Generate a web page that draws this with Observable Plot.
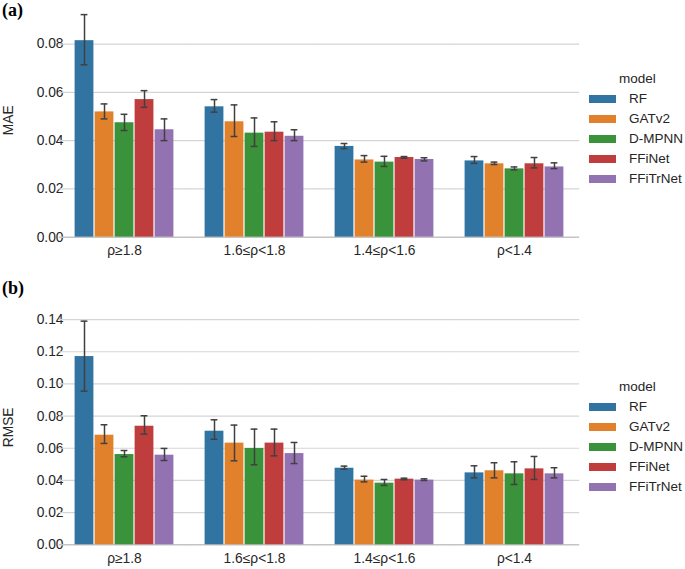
<!DOCTYPE html>
<html><head><meta charset="utf-8">
<script src="https://cdn.jsdelivr.net/npm/d3@7"></script>
<script src="https://cdn.jsdelivr.net/npm/@observablehq/plot@0.6"></script>
<style>
body{margin:0;background:#fff;font-family:"Liberation Sans",Arial,sans-serif;}
#root{position:relative;width:685px;height:569px;overflow:hidden;}
.panel{position:absolute;left:0;}
.tag{position:absolute;left:2px;font-family:"Liberation Serif","Times New Roman",serif;font-weight:bold;font-size:18px;line-height:18px;color:#000;}
.legend{position:absolute;left:589px;font-size:13.5px;color:#262626;}
.legend .title{position:absolute;left:30px;white-space:nowrap;}
.legend .item{position:absolute;left:0;white-space:nowrap;height:20px;}
.legend .sw{position:absolute;left:0;width:27px;height:8px;}
.legend .lab{position:absolute;left:40px;}
</style></head><body><div id="root"></div>
<script>
const groups = ["ρ≥1.8", "1.6≤ρ<1.8", "1.4≤ρ<1.6", "ρ<1.4"];
const models = ["RF", "GATv2", "D-MPNN", "FFiNet", "FFiTrNet"];
const colors = ["#3274a1", "#e1812c", "#3a923a", "#c03d3e", "#9372b2"];

// MAE (rows: groups, columns: models)
const maeMean = [
  [0.0814, 0.0519, 0.0474, 0.0570, 0.0445],
  [0.0540, 0.0478, 0.0431, 0.0435, 0.0418],
  [0.0376, 0.0320, 0.0311, 0.0330, 0.0322],
  [0.0316, 0.0304, 0.0283, 0.0304, 0.0291]
];
const maeLow = [
  [0.0714, 0.0490, 0.0442, 0.0538, 0.0400],
  [0.0518, 0.0417, 0.0376, 0.0400, 0.0400],
  [0.0367, 0.0311, 0.0293, 0.0327, 0.0316],
  [0.0306, 0.0301, 0.0279, 0.0287, 0.0284]
];
const maeHigh = [
  [0.0922, 0.0552, 0.0509, 0.0607, 0.0490],
  [0.0570, 0.0548, 0.0494, 0.0478, 0.0445],
  [0.0388, 0.0338, 0.0335, 0.0334, 0.0329],
  [0.0334, 0.0311, 0.0291, 0.0330, 0.0308]
];
const maeTicks = [0, 0.02, 0.04, 0.06, 0.08];

// RMSE
const rmseMean = [
  [0.1170, 0.0681, 0.0561, 0.0737, 0.0557],
  [0.0706, 0.0632, 0.0599, 0.0632, 0.0567],
  [0.0476, 0.0402, 0.0383, 0.0408, 0.0402],
  [0.0447, 0.0460, 0.0441, 0.0472, 0.0441]
];
const rmseLow = [
  [0.0955, 0.0630, 0.0547, 0.0688, 0.0524],
  [0.0656, 0.0522, 0.0497, 0.0553, 0.0505],
  [0.0470, 0.0391, 0.0369, 0.0404, 0.0400],
  [0.0416, 0.0416, 0.0375, 0.0406, 0.0416]
];
const rmseHigh = [
  [0.1390, 0.0746, 0.0586, 0.0802, 0.0599],
  [0.0777, 0.0744, 0.0719, 0.0719, 0.0636],
  [0.0489, 0.0426, 0.0406, 0.0414, 0.0410],
  [0.0491, 0.0510, 0.0516, 0.0549, 0.0479]
];
const rmseTicks = [0, 0.02, 0.04, 0.06, 0.08, 0.10, 0.12, 0.14];

function rows(mean, low, high) {
  const out = [];
  groups.forEach((g, i) => models.forEach((m, j) => {
    out.push({group: g, model: m, value: mean[i][j], low: low[i][j], high: high[i][j]});
  }));
  return out;
}

const root = document.getElementById("root");

function panel({mean, low, high, ticks, yMax, yLabel, tag, top, marginTop, plotH, marginBottom, tagTop, legendTop}) {
  const data = rows(mean, low, high);
  const gapHalf = -13.2;
  const chart = Plot.plot({
    width: 685,
    height: marginTop + plotH + marginBottom,
    marginLeft: 57,
    marginRight: 105,
    marginTop,
    marginBottom,
    style: {fontFamily: "Liberation Sans, Arial, sans-serif", fontSize: "13.8px", color: "#262626", background: "transparent", overflow: "visible"},
    fx: {domain: groups, paddingInner: 0.2, paddingOuter: 0.1, label: null, axis: "bottom", tickSize: 0, tickPadding: 8},
    x: {domain: models, axis: null, padding: 0},
    y: {domain: [0, yMax], ticks, tickFormat: d3.format(".2f"), tickSize: 0, tickPadding: 9,
        label: yLabel, labelAnchor: "center", labelOffset: 69, labelArrow: "none"},
    color: {domain: models, range: colors},
    marks: [
      Plot.ruleY(ticks.slice(1), {stroke: "#d5d5d5", strokeWidth: 1.2, insetLeft: gapHalf, insetRight: gapHalf}),
      Plot.ruleY([0], {stroke: "#c4c4c4", strokeWidth: 1.4, insetLeft: gapHalf, insetRight: gapHalf}),
      Plot.barY(data, {fx: "group", x: "model", y: "value", fill: "model", insetLeft: 0.6, insetRight: 0.6}),
      Plot.ruleX(data, {fx: "group", x: "model", y1: "low", y2: "high", stroke: "#404040", strokeWidth: 1.5}),
      Plot.tickY(data, {fx: "group", x: "model", y: "low", stroke: "#404040", strokeWidth: 1.5, insetLeft: 6.6, insetRight: 6.6}),
      Plot.tickY(data, {fx: "group", x: "model", y: "high", stroke: "#404040", strokeWidth: 1.5, insetLeft: 6.6, insetRight: 6.6})
    ]
  });
  const wrap = document.createElement("div");
  wrap.className = "panel";
  wrap.style.top = top + "px";
  wrap.appendChild(chart);
  root.appendChild(wrap);

  const t = document.createElement("div");
  t.className = "tag";
  t.style.top = tagTop + "px";
  t.textContent = tag;
  root.appendChild(t);

  const lg = document.createElement("div");
  lg.className = "legend";
  lg.style.top = legendTop + "px";
  const title = document.createElement("div");
  title.className = "title";
  title.style.top = "-8px";
  title.textContent = "model";
  lg.appendChild(title);
  models.forEach((m, j) => {
    const it = document.createElement("div");
    it.className = "item";
    it.style.top = (20 * (j + 1)) + "px";
    const sw = document.createElement("div");
    sw.className = "sw";
    sw.style.top = "-4px";
    sw.style.background = colors[j];
    const lab = document.createElement("div");
    lab.className = "lab";
    lab.style.top = "-8px";
    lab.textContent = m;
    it.appendChild(sw);
    it.appendChild(lab);
    lg.appendChild(it);
  });
  root.appendChild(lg);
}

panel({mean: maeMean, low: maeLow, high: maeHigh, ticks: maeTicks, yMax: 0.0968, yLabel: "MAE", tag: "(a)",
  top: 0, marginTop: 3, plotH: 233.7, marginBottom: 30, tagTop: 1, legendTop: 79});
panel({mean: rmseMean, low: rmseLow, high: rmseHigh, ticks: rmseTicks, yMax: 0.146, yLabel: "RMSE", tag: "(b)",
  top: 300, marginTop: 9.4, plotH: 234.9, marginBottom: 24, tagTop: 279, legendTop: 386.7});
</script>
</body></html>
